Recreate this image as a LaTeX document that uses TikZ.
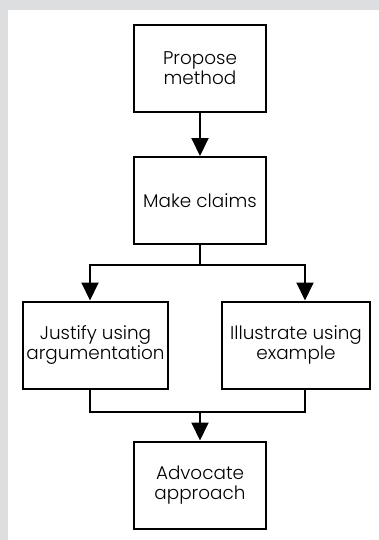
\documentclass[tikz,border=0pt]{standalone}
\usepackage{fontspec}
\setmainfont{Poppins}[UprightFont=* Light]
\usetikzlibrary{arrows.meta}
\definecolor{panelgrey}{RGB}{221,222,224}

\begin{document}
\begin{tikzpicture}[x=0.5pt,y=-0.5pt,line width=1pt,
    stepbox/.style={draw,align=center,inner sep=0,minimum height=43.5pt,
      font=\fontsize{9.2}{10}\selectfont},
    arr/.style={-{Triangle[width=8.5pt,length=9pt]}}]

  % Frame
  \fill[panelgrey] (0,0) rectangle (379,540);
  \fill[white] (8,10) rectangle (379,540);
  \useasboundingbox (0,0) rectangle (379,540);

  % Boxes
  \node[stepbox,minimum width=66pt] (propose) at (200,68.5) {Propose\\method};
  \node[stepbox,minimum width=66pt] (claims) at (200,200.5) {Make claims};
  \node[stepbox,minimum width=72.5pt] (justify) at (95.5,345) {Justify using\\argumentation};
  \node[stepbox,minimum width=74pt] (illustrate) at (296,345) {Illustrate using\\example};
  \node[stepbox,minimum width=66pt] (advocate) at (200,485) {Advocate\\approach};

  % Connectors
  \coordinate (split) at (200,265);
  \coordinate (merge) at (200,412);
  \coordinate (lcol) at (90,0);
  \coordinate (rcol) at (305,0);
  \draw[arr] (propose) -- (claims);
  \draw (claims) -- (split);
  \draw[arr] (split) -| (lcol |- justify.north);
  \draw[arr] (split) -| (rcol |- illustrate.north);
  \draw (lcol |- justify.south) |- (merge);
  \draw (rcol |- illustrate.south) |- (merge);
  \draw[arr] (merge) -- (advocate);

\end{tikzpicture}
\end{document}
